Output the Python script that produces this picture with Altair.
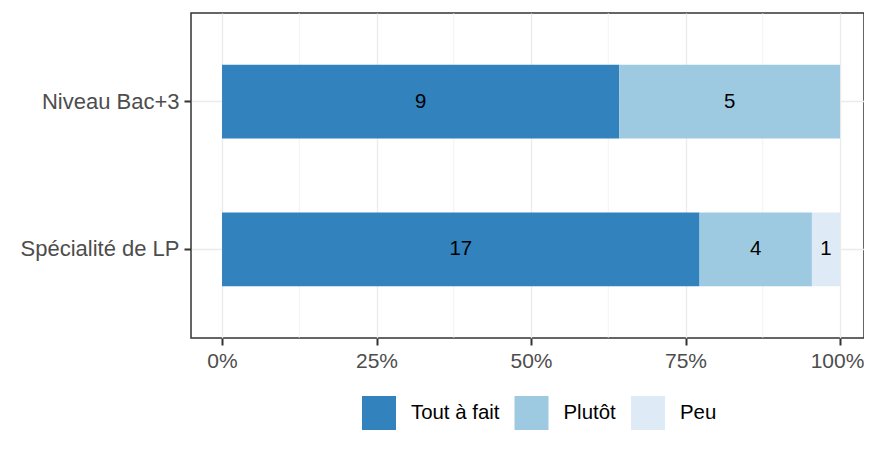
import altair as alt
import pandas as pd

categories = ["Niveau Bac+3", "Niveau Bac+3", "Spécialité de LP", "Spécialité de LP", "Spécialité de LP"]
responses = ["Tout à fait", "Plutôt", "Tout à fait", "Plutôt", "Peu"]
counts = [9, 5, 17, 4, 1]
resp_order = ["Tout à fait", "Plutôt", "Peu"]
resp_colors = ["#3182BD", "#9ECAE1", "#DEEBF7"]
cat_order = ["Niveau Bac+3", "Spécialité de LP"]
major_ticks = [0, 0.25, 0.5, 0.75, 1.0]
minor_ticks = [0.125, 0.375, 0.625, 0.875]

df = pd.DataFrame({
    "cat": categories,
    "resp": responses,
    "n": counts,
    "ord": [resp_order.index(r) for r in responses],
})
minor_df = pd.DataFrame({"v": minor_ticks})

FONT = "Liberation Sans"
YAXIS_FS = 22
XAXIS_FS = 21
TEXT_FS = 20.4

xscale = alt.Scale(domain=[-0.0502, 1.0388], nice=False, zero=False)
yscale = alt.Scale(domain=cat_order, paddingInner=0.5, paddingOuter=0.35)

base = alt.Chart(df).transform_stack(
    stack="n", groupby=["cat"], as_=["x0", "x1"], offset="normalize",
    sort=[alt.SortField("ord", order="ascending")]
)

bars = base.mark_bar().encode(
    x=alt.X("x0:Q", scale=xscale, title=None,
            axis=alt.Axis(values=major_ticks, format=".0%", grid=True,
                          gridColor="#EBEBEB", gridWidth=1.3, domain=False,
                          tickColor="#333333", tickWidth=2, tickSize=7,
                          labelColor="#4D4D4D", labelFontSize=XAXIS_FS, labelPadding=5,
                          labelOffset=alt.ExprRef(expr="datum.value == 1 ? -3 : 0"),
                          labelFont=FONT)),
    x2="x1:Q",
    y=alt.Y("cat:N", scale=yscale, sort=cat_order, title=None,
            axis=alt.Axis(grid=True, gridColor="#EBEBEB", gridWidth=1.3,
                          bandPosition=0.5, domain=False,
                          tickColor="#333333", tickWidth=2, tickSize=7,
                          labelColor="#4D4D4D", labelFontSize=YAXIS_FS, labelPadding=5,
                          labelFont=FONT)),
    color=alt.Color("resp:N", scale=alt.Scale(domain=resp_order, range=resp_colors),
                    legend=alt.Legend(title=None, orient="none", direction="horizontal",
                                      legendX=171, legendY=383, symbolType="square",
                                      symbolSize=1156, symbolStrokeWidth=0,
                                      symbolOpacity=1, labelFontSize=TEXT_FS, labelColor="#000000",
                                      labelFont=FONT, labelOffset=15, columnPadding=14.5,
                                      padding=0)),
)

text = base.transform_calculate(mid="(datum.x0 + datum.x1) / 2").mark_text(
    fontSize=TEXT_FS, font=FONT, color="#000000", baseline="middle"
).encode(
    x=alt.X("mid:Q", scale=xscale),
    y=alt.Y("cat:N", scale=yscale, sort=cat_order),
    text="n:Q",
)

minor = alt.Chart(minor_df).mark_rule(color="#EBEBEB", strokeWidth=0.7).encode(
    x=alt.X("v:Q", scale=xscale)
)

chart = alt.layer(minor, bars, text).properties(
    width=673, height=325,
    padding={"left": 183, "top": 5, "right": 0, "bottom": 92},
    autosize=alt.AutoSizeParams(type="none"),
).configure(font=FONT).configure_view(stroke="#333333", strokeWidth=1.5)

chart.save("out.html", embed_options={"renderer": "svg", "actions": False})
